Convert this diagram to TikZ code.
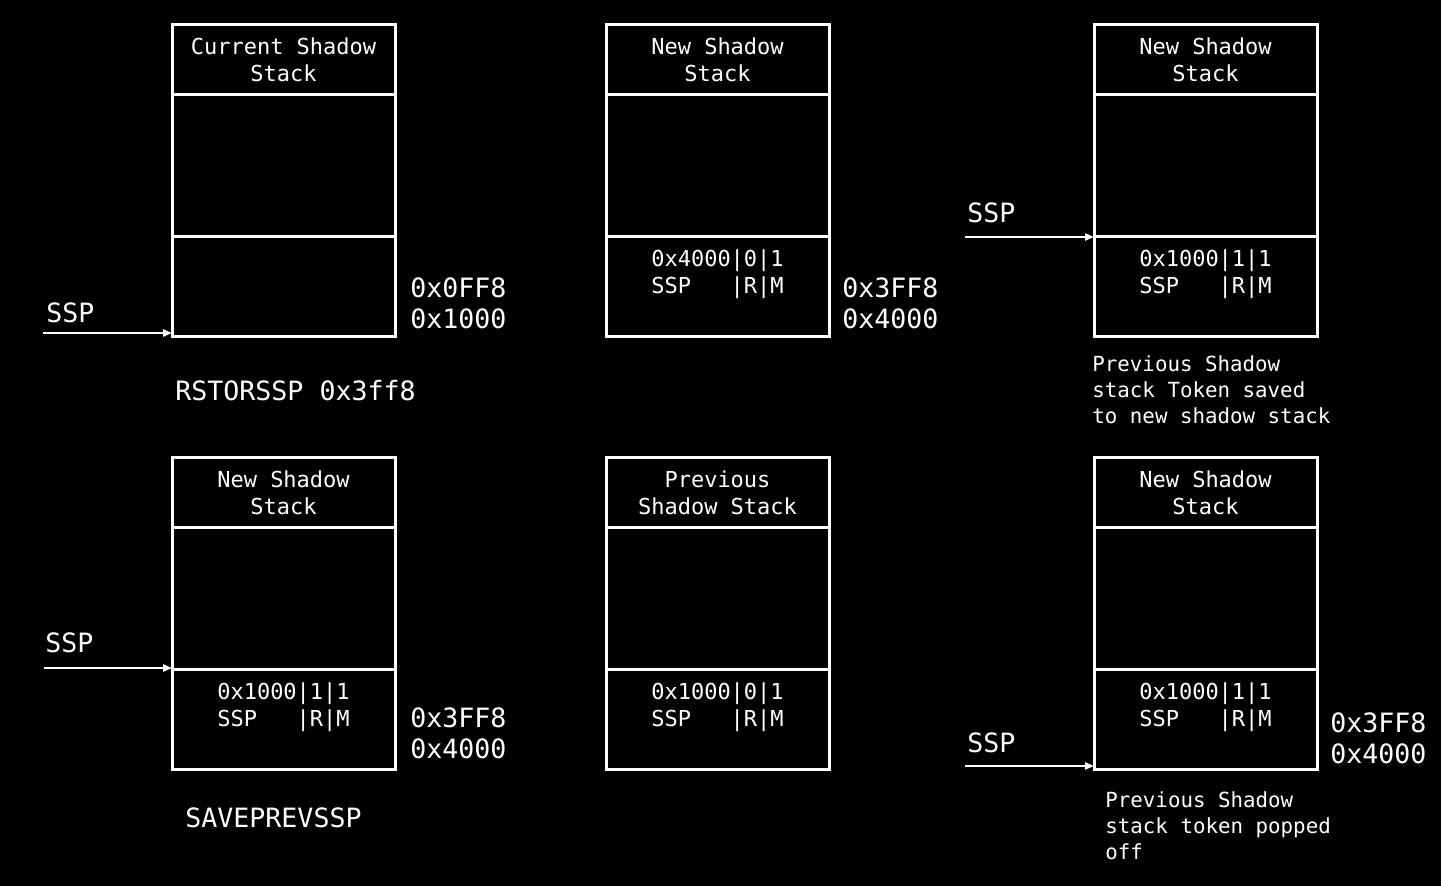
\documentclass[tikz,border=0pt]{standalone}
\usepackage{fontspec}
\setmainfont{DejaVu Sans Mono}
\usetikzlibrary{arrows.meta, positioning, calc}

\tikzset{
  box/.style={draw=white, line width=1.5pt, minimum width=111.5pt, outer sep=0pt, inner sep=0pt,
    text=white, align=center, font=\fontsize{11}{13.5}\selectfont},
  hdr/.style={box, minimum height=35pt},
  body/.style={box, minimum height=71pt},
  tok/.style={box, minimum height=50pt},
  addr/.style={text=white, align=left, inner sep=0pt, anchor=west, font=\fontsize{13.3}{15.5}\selectfont},
  note/.style={text=white, align=left, inner sep=0pt, anchor=north west, font=\fontsize{10.4}{13}\selectfont},
  ptr/.style={draw=white, line width=1pt, -{Triangle[length=4.5pt,width=3.6pt]}},
}

\def\gap{\rule[-2pt]{0pt}{1pt}}

\begin{document}
\begin{tikzpicture}[x=0.5pt, y=-0.5pt]

\fill[black] (0,0) rectangle (1441,886);
\useasboundingbox (0,0) rectangle (1441,886);

% stacks
\foreach \n/\x/\y/\hd/\tk in {
  a/172/25/{Current Shadow\\Stack}/{},
  b/606/25/{New Shadow\\Stack}/{0x4000|0|1\\SSP\ \ \ |R|M\\\gap},
  c/1094/25/{New Shadow\\Stack}/{0x1000|1|1\\SSP\ \ \ |R|M\\\gap},
  d/172/458/{New Shadow\\Stack}/{0x1000|1|1\\SSP\ \ \ |R|M\\\gap},
  e/606/458/{Previous\\Shadow Stack}/{0x1000|0|1\\SSP\ \ \ |R|M\\\gap},
  f/1094/458/{New Shadow\\Stack}/{0x1000|1|1\\SSP\ \ \ |R|M\\\gap}%
}{
  \node[hdr, anchor=north west] (hd\n) at (\x,\y) {\hd};
  \node[body, below=0pt of hd\n] (bd\n) {};
  \node[tok, below=0pt of bd\n] (tk\n) {\tk};
}

% addresses
\node[addr] (ada) at (410,303) {0x0FF8\\0x1000};
\node[addr] (adb) at (842,303) {0x3FF8\\0x4000};
\node[addr] (add) at (410,733) {0x3FF8\\0x4000};
\node[addr] (adf) at (1330,738) {0x3FF8\\0x4000};

% shadow stack pointers
\coordinate (sa) at (43,333);
\coordinate (sc) at (965,237);
\coordinate (sd) at (44,668);
\coordinate (sf) at (965,766);
\node[addr] (lsa) at (46,313) {SSP};
\node[addr] (lsc) at (967,213) {SSP};
\node[addr] (lsd) at (45,643) {SSP};
\node[addr] (lsf) at (967,743) {SSP};
\draw[ptr] (sa) -- (sa -| tka.west);
\draw[ptr] (sc) -- (sc -| tkc.west);
\draw[ptr] (sd) -- (sd -| tkd.west);
\draw[ptr] (sf) -- (sf -| tkf.west);

% instructions and notes
\node[addr] (rst) at (175,391) {RSTORSSP 0x3ff8};
\node[addr] (sav) at (185,818) {SAVEPREVSSP};
\node[note] (ntc) at (1092,355) {Previous Shadow\\stack Token saved\\to new shadow stack};
\node[note] (ntf) at (1105,791) {Previous Shadow\\stack token popped\\off};

\end{tikzpicture}
\end{document}
